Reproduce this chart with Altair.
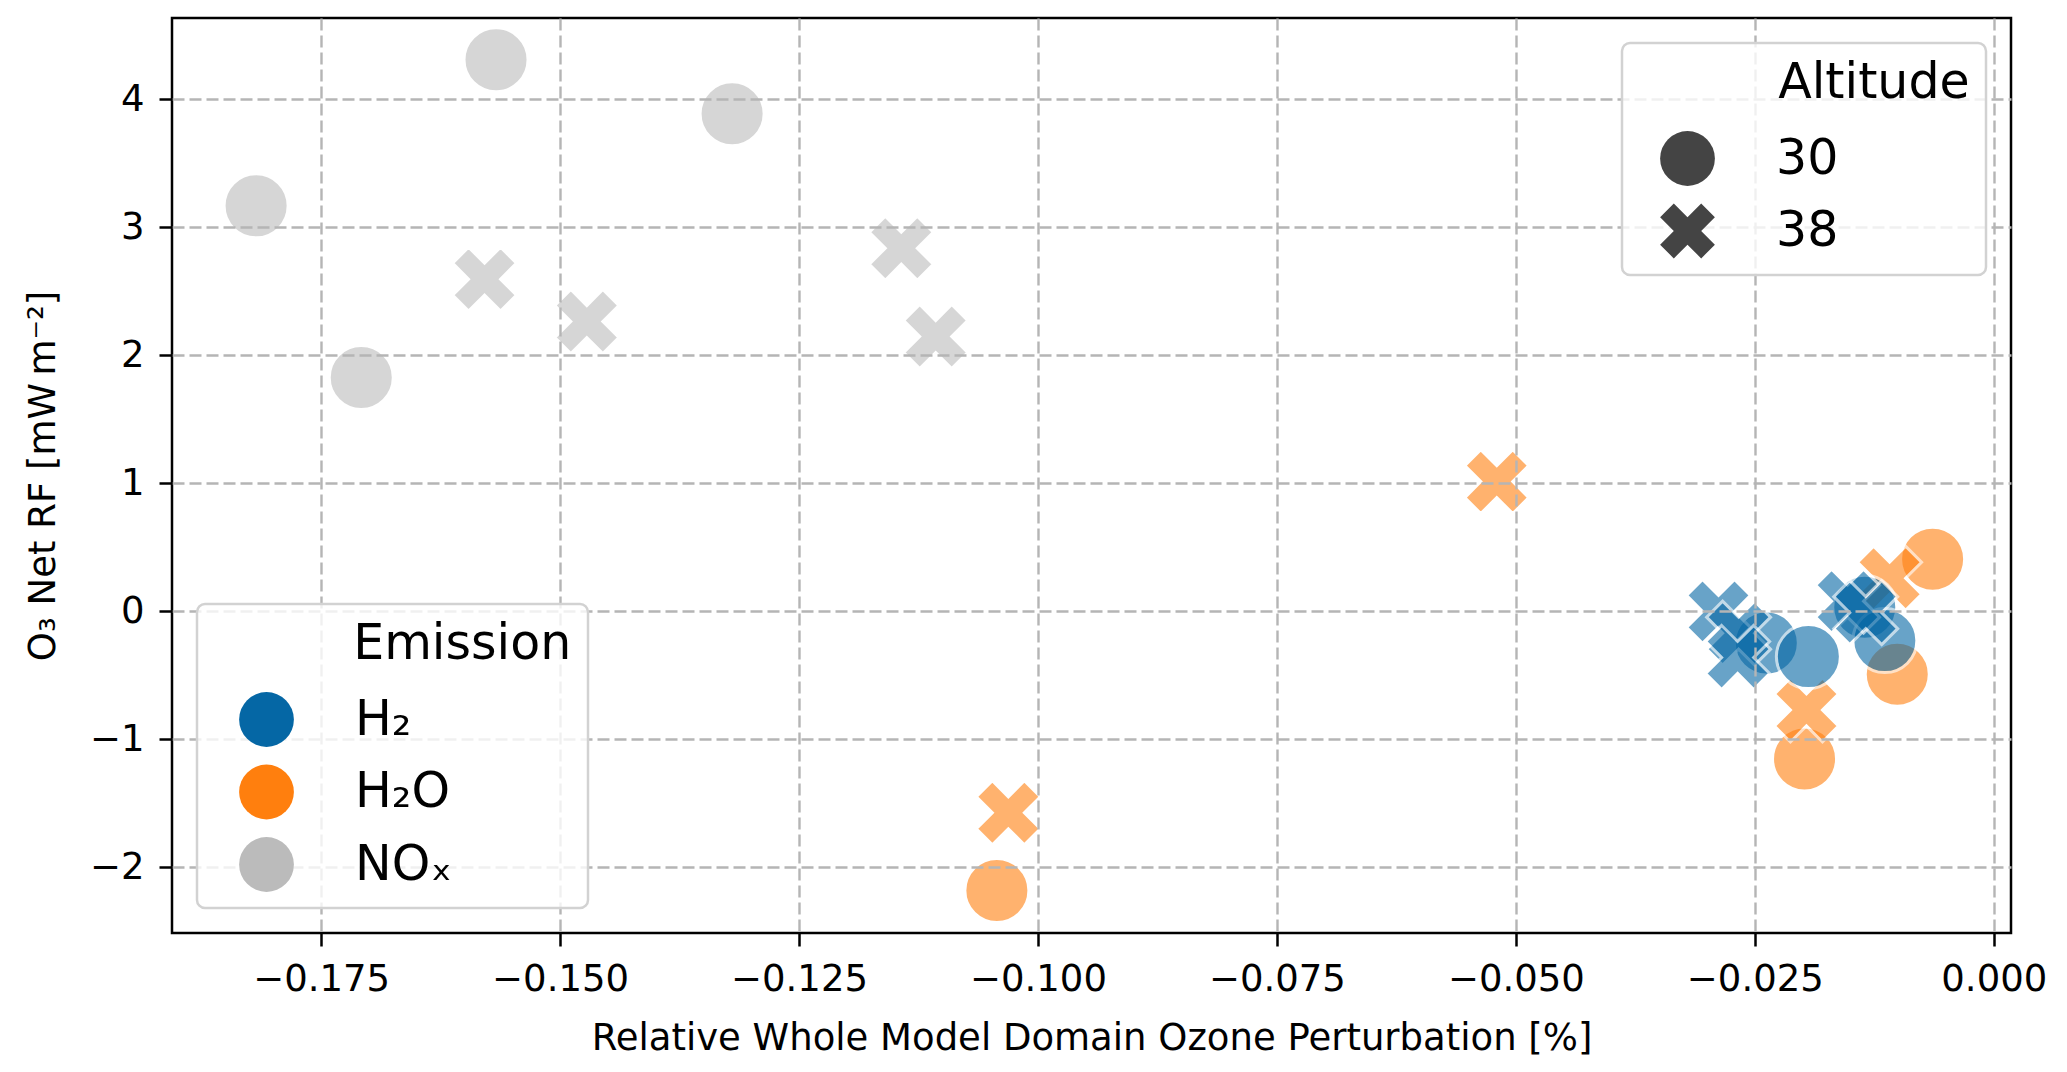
import altair as alt
import pandas as pd

# ---- data ----
emission_labels = ["H₂", "H₂O", "NOₓ"]
emission_colors = ["#0567a5", "#ff7f0e", "#bbbbbb"]
altitudes = [30, 38]

h2o_30_x = [-0.1043, -0.0198, -0.0101, -0.0064]
h2o_30_y = [-2.180, -1.152, -0.491, 0.408]
h2o_38_x = [-0.1031, -0.0520, -0.0196, -0.0109]
h2o_38_y = [-1.573, 1.014, -0.770, 0.259]

h2_30_x = [-0.0238, -0.0194, -0.0135, -0.0114]
h2_30_y = [-0.247, -0.353, 0.033, -0.228]
h2_38_x = [-0.0288, -0.0267, -0.0268, -0.0153, -0.0134]
h2_38_y = [0.000, -0.170, -0.360, 0.080, -0.010]

nox_30_x = [-0.1818, -0.1708, -0.1567, -0.1320]
nox_30_y = [3.168, 1.827, 4.309, 3.887]
nox_38_x = [-0.1579, -0.1472, -0.1143, -0.1107]
nox_38_y = [2.595, 2.264, 2.837, 2.147]

x_ticks = [-0.175, -0.150, -0.125, -0.100, -0.075, -0.050, -0.025, 0.000]
y_ticks = [-2, -1, 0, 1, 2, 3, 4]
x_domain = [-0.1906, 0.0018]
y_domain = [-2.512, 4.635]

rows = []
def add(em, alt_km, xs, ys):
    for xv, yv in zip(xs, ys):
        rows.append({"Emission": em, "Altitude": alt_km, "perturbation": xv, "rf": yv})

add(emission_labels[1], altitudes[0], h2o_30_x, h2o_30_y)
add(emission_labels[1], altitudes[1], h2o_38_x, h2o_38_y)
add(emission_labels[0], altitudes[0], h2_30_x, h2_30_y)
add(emission_labels[0], altitudes[1], h2_38_x, h2_38_y)
add(emission_labels[2], altitudes[0], nox_30_x, nox_30_y)
add(emission_labels[2], altitudes[1], nox_38_x, nox_38_y)
df = pd.DataFrame(rows)

X_PATH = ("M-0.5,-1L0,-0.5L0.5,-1L1,-0.5L0.5,0L1,0.5L0.5,1L0,0.5"
          "L-0.5,1L-1,0.5L-0.5,0L-1,-0.5Z")
# zero-width space keeps the leading no-break spaces from being trimmed,
# so the legend titles line up with the entry labels as in the reference
LEAD = "\u200b" + "\u00a0" * 9
FONT = "DejaVu Sans"

chart = alt.Chart(df).mark_point(
    filled=True, size=4096, opacity=0.6, stroke="white", strokeWidth=3
).encode(
    x=alt.X(
        "perturbation:Q",
        scale=alt.Scale(domain=x_domain, nice=False, zero=False),
        axis=alt.Axis(
            values=x_ticks, format=".3f",
            title="Relative Whole Model Domain Ozone Perturbation [%]",
            titleY=116, titleBaseline="alphabetic", zindex=1,
        ),
    ),
    y=alt.Y(
        "rf:Q",
        scale=alt.Scale(domain=y_domain, nice=False, zero=False),
        axis=alt.Axis(
            values=y_ticks, format="d",
            title="O₃ Net RF [mW\u2009m⁻²]",
            titleX=-118, titleBaseline="alphabetic", zindex=1,
        ),
    ),
    color=alt.Color(
        "Emission:N",
        scale=alt.Scale(domain=emission_labels, range=emission_colors),
        legend=alt.Legend(
            title=LEAD + "Emission", orient="bottom-left", offset=25,
            symbolType="circle", symbolOffset=26, labelOffset=61, zindex=2,
        ),
    ),
    shape=alt.Shape(
        "Altitude:N",
        scale=alt.Scale(domain=altitudes, range=["circle", X_PATH]),
        legend=alt.Legend(
            title=LEAD + "Altitude", orient="top-right", offset=25,
            symbolFillColor="#444444", symbolOffset=22, labelOffset=61, zindex=2,
        ),
    ),
).properties(
    width=1839, height=915, autosize="none",
    padding={"left": 164, "top": 10, "right": 48, "bottom": 130},
).configure_view(
    stroke="black", strokeWidth=2.5
).configure_axis(
    labelFont=FONT, labelFontSize=37, labelColor="black", labelPadding=15,
    titleFont=FONT, titleFontSize=37, titleFontWeight="normal", titleColor="black",
    tickColor="black", tickWidth=2.5, tickSize=13,
    domain=False, grid=True, gridColor="#b5b5b5", gridDash=[12, 5], gridWidth=2.4,
).configure_legend(
    labelFont=FONT, labelFontSize=49, labelColor="black", labelLimit=400,
    titleFont=FONT, titleFontSize=49, titleFontWeight="normal", titleColor="black",
    titlePadding=23, titleLimit=600,
    padding=16, rowPadding=17.5, cornerRadius=8,
    fillColor="rgba(255,255,255,0.8)", strokeColor="#d2d2d2", strokeWidth=2.5,
    symbolSize=3000, symbolOpacity=1, symbolStrokeWidth=0,
)

chart.save("out.html", embed_options={"renderer": "svg", "actions": False})
